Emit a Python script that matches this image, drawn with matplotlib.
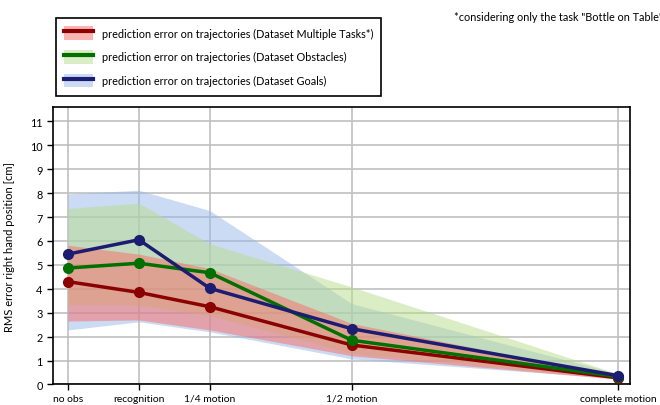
import matplotlib
matplotlib.use('Agg')
import matplotlib.pyplot as plt
from matplotlib.patches import Patch
from matplotlib.lines import Line2D

plt.rcParams['font.family'] = ['Lato', 'DejaVu Sans']

# 관측 단계 (x 위치는 그림에서 읽은 값)
stages = ['no obs', 'recognition', '1/4 motion', '1/2 motion', 'complete motion']
stage_x = [0, 1, 2, 4, 7.75]

# Dataset Multiple Tasks
multi_mean = [4.3, 3.85, 3.25, 1.65, 0.28]
multi_lo = [2.65, 2.7, 2.28, 1.2, 0.22]
multi_hi = [5.82, 5.45, 4.85, 2.55, 0.34]

# Dataset Obstacles
obst_mean = [4.87, 5.07, 4.67, 1.85, 0.33]
obst_lo = [3.32, 3.32, 2.88, 1.3, 0.25]
obst_hi = [7.36, 7.58, 5.88, 4.08, 0.45]

# Dataset Goals
goal_mean = [5.45, 6.05, 4.02, 2.33, 0.37]
goal_lo = [2.28, 2.62, 2.2, 1.07, 0.25]
goal_hi = [7.97, 8.12, 7.27, 3.38, 0.45]

series = [
    ('prediction error on trajectories (Dataset Multiple Tasks*)', multi_mean, multi_lo, multi_hi, '#8b0000', '#fa6a66'),
    ('prediction error on trajectories (Dataset Obstacles)', obst_mean, obst_lo, obst_hi, '#007000', '#b8dc8a'),
    ('prediction error on trajectories (Dataset Goals)', goal_mean, goal_lo, goal_hi, '#1c1c70', '#99b8eb'),
]

fig = plt.figure(figsize=(6.6, 4.06), dpi=100)
ax = fig.add_axes([0.0803, 0.0505, 0.8742, 0.6835])

# 밴드는 파랑 -> 초록 -> 빨강 순서로 겹치게 그림
for label, mean, lo, hi, lc, fc in reversed(series):
    ax.fill_between(stage_x, lo, hi, color=fc, alpha=0.5, linewidth=0, zorder=1)

for label, mean, lo, hi, lc, fc in series:
    ax.plot(stage_x, mean, color=lc, linewidth=2.5, marker='o', markersize=7, zorder=3)

ax.set_xlim(-0.21, 7.92)
ax.set_ylim(0, 11.6)
ax.set_xticks(stage_x)
ax.set_xticklabels(stages, fontsize=7.5)
ax.set_yticks(range(12))
ax.tick_params(axis='y', labelsize=7.8, length=4, width=1)
ax.tick_params(axis='x', length=4, width=1, pad=2.5)
ax.grid(True, color='#c0c0c0', linewidth=1.2)
ax.set_axisbelow(True)
for s in ax.spines.values():
    s.set_linewidth(1.2)
    s.set_color('black')
ax.set_ylabel('RMS error right hand position [cm]', fontsize=8)
ax.yaxis.set_label_coords(-0.065, 0.5)

# 범례: 밴드 패치 위에 선을 겹침
handles = []
for label, mean, lo, hi, lc, fc in series:
    handles.append((Patch(facecolor=fc, alpha=0.5, edgecolor='none'),
                    Line2D([], [], color=lc, linewidth=3)))
leg = fig.legend(handles, [s[0] for s in series], loc='upper left',
                 bbox_to_anchor=(0.085, 0.953), fontsize=7.8, fancybox=False,
                 edgecolor='black', framealpha=1, handlelength=2.7, handleheight=1.6,
                 labelspacing=0.9, borderpad=0.75, handletextpad=0.75,
                 borderaxespad=0)
leg.get_frame().set_linewidth(1.2)

fig.text(0.688, 0.958, '*considering only the task "Bottle on Table"', fontsize=7.8, va='center')

fig.savefig('out.png', dpi=100)
plt.close(fig)
